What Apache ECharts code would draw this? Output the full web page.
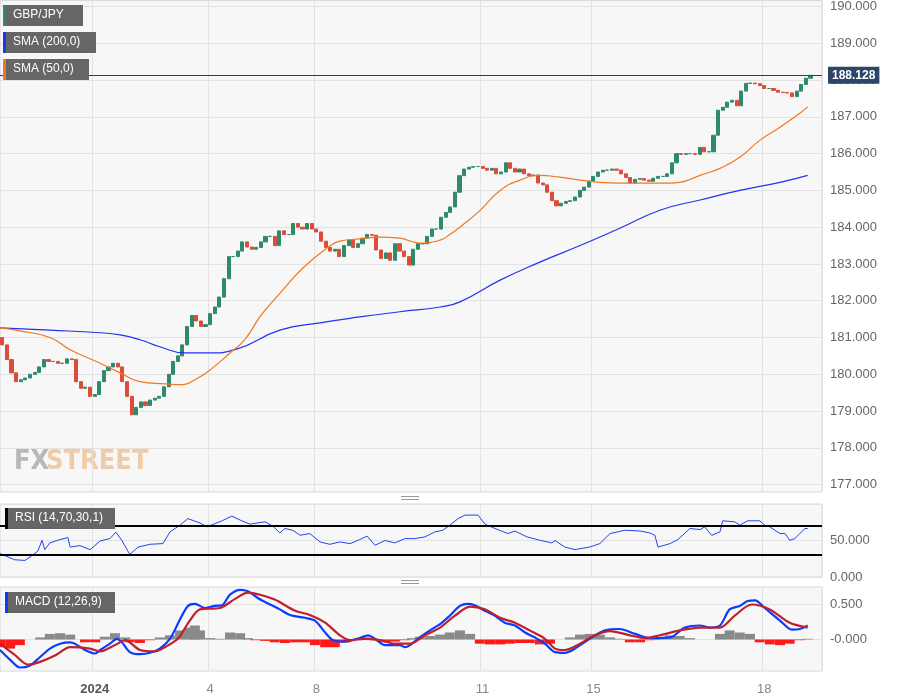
<!DOCTYPE html>
<html>
<head>
<meta charset="utf-8">
<script src="https://cdn.jsdelivr.net/npm/echarts@6/dist/echarts.min.js"></script>
<style>
  html, body { margin: 0; padding: 0; background: #fff; }
  #chart { width: 898px; height: 697px; }
</style>
</head>
<body>
<div id="chart"></div>
<script>
// 2-hour bars, GBP/JPY, late Dec 2023 - 18 Jan 2024
const slotCount = 178;
const dayLabels = [[20, '2024'], [45, '4'], [68, '8'], [104, '11'], [128, '15'], [165, '18']];
const firstOpen = 181.0;
const closes = [
  180.8, 180.4, 180.04, 179.8, 179.85, 179.9, 180.0, 180.05, 180.2, 180.4,
  180.35, 180.35, 180.3, 180.3, 180.42, 180.4, 179.8, 179.62, 179.65, 179.4,
  179.45, 179.8, 180.1, 180.2, 180.3, 180.2, 179.8, 179.4, 178.9, 179.1,
  179.25, 179.15, 179.3, 179.35, 179.4, 179.66, 180.0, 180.35, 180.5, 180.8,
  181.3, 181.6, 181.45, 181.3, 181.35, 181.65, 181.83, 182.1, 182.6, 183.2,
  183.2, 183.35, 183.6, 183.46, 183.4, 183.45, 183.6, 183.75, 183.75, 183.5,
  183.9, 183.8, 183.8, 184.1, 184.0, 183.95, 184.1, 183.95, 183.87, 183.62,
  183.45, 183.35, 183.4, 183.2, 183.5, 183.65, 183.45, 183.55, 183.7, 183.8,
  183.78, 183.38, 183.15, 183.3, 183.1, 183.55, 183.35, 183.2, 182.97, 183.4,
  183.55, 183.55, 183.75, 183.95, 183.95, 184.27, 184.4, 184.55, 184.95, 185.4,
  185.58, 185.63, 185.65, 185.65, 185.6, 185.55, 185.6, 185.45, 185.5, 185.75,
  185.6, 185.5, 185.58, 185.45, 185.4, 185.42, 185.2, 185.15, 184.95, 184.72,
  184.58, 184.65, 184.7, 184.72, 184.82, 185.0, 185.09, 185.25, 185.38, 185.5,
  185.55, 185.55, 185.58, 185.55, 185.45, 185.35, 185.2, 185.3, 185.32, 185.28,
  185.25, 185.33, 185.38, 185.38, 185.45, 185.75, 186.0, 185.98, 186.0, 186.0,
  185.98, 186.17, 186.05, 186.05, 186.5, 187.18, 187.26, 187.4, 187.45, 187.3,
  187.7, 187.91, 187.92, 187.9, 187.85, 187.77, 187.77, 187.72, 187.67, 187.66,
  187.65, 187.55, 187.7, 187.88, 188.05, 188.128
];
const lastPrice = 188.128;

// indicator readings: [slot position, value]
const sma50 = [[0,181.26],[4.3,181.18],[10.8,181.0],[15.2,180.67],[21.7,180.3],[26,180.04],[30.3,179.8],[35.7,179.74],[39.6,179.72],[42.2,179.85],[45.5,180.12],[49.8,180.58],[53,180.94],[56.5,181.6],[60.6,182.2],[65.6,182.89],[71.4,183.49],[73.6,183.62],[77.9,183.68],[82.3,183.73],[86.6,183.7],[90.9,183.57],[95.3,183.65],[97.4,183.8],[99.6,184.0],[103.9,184.45],[108.3,185.0],[112.6,185.28],[116.9,185.41],[121.2,185.36],[125.6,185.28],[129.9,185.22],[134.2,185.2],[138.6,185.2],[145.1,185.2],[147.2,185.22],[151.6,185.41],[155.9,185.6],[160.2,185.9],[164.5,186.36],[168.9,186.72],[173.2,187.1],[174.9,187.27]];
const sma200 = [[0,181.26],[10.8,181.2],[21.7,181.13],[26,181.07],[30.3,180.94],[34.6,180.75],[40.1,180.58],[45.5,180.58],[50.9,180.67],[60.6,181.2],[69.3,181.4],[77.9,181.56],[86.6,181.7],[95.3,181.83],[99.6,181.97],[108.3,182.56],[116.9,183.05],[125.6,183.5],[134.2,183.97],[142.9,184.46],[151.6,184.74],[160.2,185.0],[168.9,185.22],[174.9,185.41]];
const rsi = [[0,32],[3.2,23.6],[5.4,22.7],[6.5,27.3],[8.2,35.6],[9.1,50.3],[9.7,37.5],[10.8,46.7],[13,51.3],[14.7,54],[15.2,41],[17.3,43],[19.5,37.5],[21.7,49.4],[23.8,52.6],[25.1,61.4],[26.4,50],[28.1,31],[29.9,41],[32.5,44.8],[35.3,45.8],[36.8,61.8],[39,71],[40.7,80],[43.3,74],[44.8,68.7],[46.5,73],[48.1,77],[50.2,83.4],[52,78],[54.1,72.4],[57.4,75.6],[59.1,69.6],[60.6,60.4],[61.7,66.4],[63.4,64],[65,57.2],[67.1,59.5],[69.3,48],[71.4,44.8],[73.6,48],[75.8,45.7],[77.9,51.3],[79.5,56],[81.2,43.5],[83.4,50],[85.5,46.7],[87.7,52.6],[89.8,52.6],[92,54.9],[94.2,61.8],[95.9,64],[97.4,71],[99.2,80],[100.7,84.8],[103.5,84.8],[105,72.4],[107.2,66.4],[110,59.5],[111.5,63],[114.1,55],[116.9,50.3],[119.5,46.7],[120.2,50],[122.3,41],[124.5,37.5],[127.7,41.1],[129.9,45.8],[132.1,59.5],[135.3,64],[138.6,63],[140.7,60.4],[141.8,57.2],[142.5,41],[145.1,45.7],[146.8,51.3],[149.4,66.4],[151.6,65],[152.6,68.7],[154.1,57],[155.9,61.8],[156.5,77],[159.1,75.6],[160.2,71],[161.9,77],[164.5,77],[165.6,71],[166.7,68.7],[168.9,59.5],[170,59.5],[171,50.3],[172.1,52.6],[173.2,59.5],[174.3,66.4],[174.9,66.4]];
const macdLine = [[0,-0.15],[2.2,-0.29],[4.3,-0.4],[6.5,-0.37],[8.7,-0.25],[10.8,-0.13],[13,-0.06],[15.2,-0.04],[16.2,-0.06],[18.4,-0.15],[20.6,-0.2],[21.7,-0.15],[23.8,-0.06],[25.3,0.01],[26.4,-0.04],[28.1,-0.18],[30.3,-0.21],[32.5,-0.19],[34.6,-0.13],[36.8,0.01],[39,0.29],[40.7,0.48],[42.2,0.51],[44.4,0.45],[46.5,0.48],[48.1,0.49],[49.8,0.64],[52,0.71],[53.7,0.69],[55.9,0.59],[58.5,0.5],[60.6,0.43],[62.8,0.35],[66,0.31],[68.2,0.27],[70.4,0.1],[72.1,-0.01],[74.7,-0.03],[77.9,0.02],[79.7,0.06],[81.2,0.01],[83.4,-0.08],[86.6,-0.08],[87.7,-0.11],[88.8,-0.08],[90.9,0.03],[93.1,0.13],[95.3,0.22],[97.4,0.34],[99.6,0.48],[101.3,0.51],[102.8,0.49],[105,0.41],[107.2,0.34],[109.3,0.24],[111.5,0.2],[113.7,0.1],[115.8,0.03],[118,-0.06],[120.2,-0.18],[122.3,-0.19],[124.5,-0.13],[127.7,0.01],[131,0.13],[134.2,0.15],[137.5,0.08],[140.7,0.02],[145.1,0.03],[148.3,0.17],[151.6,0.2],[153.7,0.17],[155.9,0.2],[158,0.43],[160.2,0.48],[161.9,0.55],[163.5,0.56],[165.6,0.45],[168.9,0.27],[171.5,0.14],[173.2,0.15],[174.9,0.2]];
const signalLine = [[0,-0.06],[3.2,-0.22],[6.1,-0.36],[8.7,-0.32],[11.9,-0.23],[15.2,-0.11],[19.5,-0.13],[21.7,-0.17],[24.9,-0.08],[27.1,-0.01],[30.3,-0.15],[33.6,-0.17],[35.7,-0.11],[38.5,0.01],[41.1,0.27],[43.3,0.43],[47.6,0.45],[50.9,0.58],[53.7,0.67],[56.3,0.64],[59.5,0.57],[63.9,0.41],[67.1,0.35],[70.4,0.24],[73.6,0.06],[75.8,-0.01],[79,0.01],[82.3,-0.01],[85.5,-0.06],[88.8,-0.06],[92,0.06],[95.3,0.17],[98.5,0.34],[101.8,0.47],[105,0.43],[108.3,0.31],[111.5,0.24],[114.7,0.13],[118,0.01],[120.2,-0.13],[122.3,-0.15],[125.6,-0.06],[128.8,0.06],[132.1,0.12],[136.4,0.06],[139.6,0.02],[142.9,0.06],[147.2,0.13],[151.6,0.17],[155.9,0.17],[159.1,0.34],[162.8,0.5],[166.7,0.43],[171,0.24],[174.9,0.17]];
const macdHist = [[0,-0.11],[2.2,-0.13],[4.3,-0.08],[6.5,0],[8.7,0.03],[10.8,0.08],[13,0.09],[15.2,0.07],[16.9,0],[18.4,-0.04],[20.6,-0.04],[22.7,0.04],[24.9,0.09],[27.1,0.03],[28.1,-0.04],[30.3,-0.05],[32.5,-0.01],[34.6,0.03],[36.8,0.06],[39,0.13],[41.1,0.17],[42.2,0.2],[43.3,0.13],[45.5,0.02],[47.6,0.01],[49.8,0.1],[52,0.09],[53.7,0.02],[55.2,-0.01],[57.4,-0.02],[59.5,-0.04],[61.7,-0.05],[63.9,-0.04],[66,-0.04],[68.2,-0.08],[70.4,-0.11],[72.5,-0.11],[74.7,-0.04],[76.9,0],[79,0.03],[81.2,-0.01],[83.4,-0.04],[85.5,-0.03],[87.7,-0.01],[89.2,0.02],[90.9,0.04],[93.1,0.05],[95.3,0.07],[97.4,0.1],[99.6,0.13],[101.8,0.08],[103.9,-0.06],[106.1,-0.07],[108.3,-0.07],[110.4,-0.06],[112.6,-0.05],[114.7,-0.05],[116.9,-0.07],[119.1,-0.06],[121.2,0],[123.4,0.03],[125.6,0.07],[127.7,0.08],[129.9,0.07],[132.1,0.03],[134.2,0.01],[136.4,-0.04],[138.6,-0.04],[140.7,-0.01],[142.9,0.03],[145.1,0.06],[147.2,0.05],[149.4,0.02],[151.6,0],[155.9,0.08],[158,0.13],[160.2,0.1],[162.4,0.08],[164.5,-0.04],[166.7,-0.07],[168.9,-0.08],[171,-0.06],[173.2,-0.01],[174.9,0.01]];

const categories = [];
for (let i = 0; i < slotCount; i++) categories.push('');
dayLabels.forEach(([i, t]) => { categories[i] = t; });
const labelSet = new Set(dayLabels.map(d => d[0]));

const candles = closes.map((c, i) => {
  const o = i === 0 ? firstOpen : closes[i - 1];
  return [o, c, Math.min(o, c), Math.max(o, c)];
});

const chart = echarts.init(document.getElementById('chart'));
const panel = { left: 0, right: 76, show: true, backgroundColor: '#f7f7f7', borderColor: '#d6d6e2', borderWidth: 1 };
const gridColor = '#e2e2e2';
const axisText = { color: '#666', fontSize: 13, fontFamily: 'Arial, Liberation Sans, sans-serif' };

function catAxis(gridIndex, showLabels) {
  return {
    type: 'category', gridIndex, data: categories, boundaryGap: true,
    axisLine: { show: false }, axisTick: { show: false },
    axisLabel: showLabels ? {
      interval: (i) => labelSet.has(i), margin: 12,
      formatter: (v) => v === '2024' ? '{b|2024}' : v,
      color: '#888', fontSize: 13,
      rich: { b: { color: '#555', fontWeight: 'bold', fontSize: 13 } }
    } : { show: false },
    splitLine: { show: true, interval: (i) => labelSet.has(i), lineStyle: { color: gridColor } }
  };
}
function valAxis(gridIndex) {
  return { type: 'value', gridIndex, min: 0, max: slotCount, show: false };
}
function clearEvery(n, k) {
  const arr = [];
  for (let i = 0; i < n; i++) arr.push(i === k ? gridColor : 'rgba(0,0,0,0)');
  return arr;
}

const labelBox = (x, y, w, strip, text) => ({
  type: 'group', left: x, top: y, z: 100, children: [
    { type: 'rect', z: 100, shape: { x: 0, y: 0, width: w, height: 21 }, style: { fill: '#666' } },
    { type: 'rect', z: 101, shape: { x: 0, y: 0, width: 3, height: 21 }, style: { fill: strip } },
    { type: 'text', z: 102, left: 10, top: 4, style: { text, fill: '#fff', font: '12px Arial, sans-serif' } }
  ]
});

chart.setOption({
  animation: false,
  backgroundColor: '#fff',
  grid: [
    Object.assign({ top: 0, height: 492 }, panel),
    Object.assign({ top: 504, height: 73 }, panel),
    Object.assign({ top: 587, height: 84 }, panel)
  ],
  xAxis: [catAxis(0, false), valAxis(0), catAxis(1, false), valAxis(1), catAxis(2, true), valAxis(2)],
  yAxis: [
    {
      type: 'value', gridIndex: 0, position: 'right', min: 176.8, max: 190.16, interval: 0.2,
      axisLine: { show: false }, axisTick: { show: false },
      axisLabel: Object.assign({ margin: 8, showMaxLabel: false,
        formatter: (v) => Math.abs(v - Math.round(v)) < 0.01 ? v.toFixed(3) : '' }, axisText),
      splitLine: { lineStyle: { color: clearEvery(5, 1) } }
    },
    {
      type: 'value', gridIndex: 1, position: 'right', min: 0, max: 100, interval: 50,
      axisLine: { show: false }, axisTick: { show: false },
      axisLabel: Object.assign({ margin: 8, showMaxLabel: false, formatter: (v) => v.toFixed(3) }, axisText),
      splitLine: { lineStyle: { color: gridColor } }
    },
    {
      type: 'value', gridIndex: 2, position: 'right', min: -0.45, max: 0.75, interval: 0.05,
      axisLine: { show: false }, axisTick: { show: false },
      axisLabel: Object.assign({ margin: 8, showMaxLabel: false,
        formatter: (v) => Math.abs(v) < 0.001 ? '-0.000' : (Math.abs(v - 0.5) < 0.001 ? '0.500' : '') }, axisText),
      splitLine: { lineStyle: { color: clearEvery(10, 9) } }
    }
  ],
  series: [
    {
      type: 'candlestick', xAxisIndex: 0, yAxisIndex: 0, data: candles, barWidth: 3.6,
      itemStyle: { color: '#2f8a6c', color0: '#dd4b39', borderColor: '#2f8a6c', borderColor0: '#dd4b39', borderWidth: 1 },
      markLine: {
        silent: true, symbol: 'none',
        lineStyle: { color: '#2b3d5c', width: 1, type: 'solid' },
        label: {
          position: 'end', formatter: lastPrice.toFixed(3), color: '#fff', fontWeight: 'bold', fontSize: 12,
          backgroundColor: '#2d4569', padding: [3, 4, 2, 4], distance: 6
        },
        data: [{ yAxis: lastPrice }]
      }
    },
    { type: 'line', xAxisIndex: 1, yAxisIndex: 0, data: sma200, showSymbol: false, smooth: true,
      lineStyle: { color: '#2233ee', width: 1.2 } },
    { type: 'line', xAxisIndex: 1, yAxisIndex: 0, data: sma50, showSymbol: false, smooth: true,
      lineStyle: { color: '#f07820', width: 1.2 } },
    {
      type: 'line', xAxisIndex: 3, yAxisIndex: 1, data: rsi, showSymbol: false,
      lineStyle: { color: '#2244ee', width: 1 },
      markLine: { silent: true, symbol: 'none', label: { show: false },
        lineStyle: { color: '#000', width: 2, type: 'solid' }, data: [{ yAxis: 70 }, { yAxis: 30 }] }
    },
    {
      type: 'bar', xAxisIndex: 5, yAxisIndex: 2, data: macdHist, barWidth: 10,
      itemStyle: { color: (p) => p.value[1] >= 0 ? '#8a8a8a' : '#ff1a1a' }
    },
    { type: 'line', xAxisIndex: 5, yAxisIndex: 2, data: macdLine, showSymbol: false, smooth: 0.3,
      lineStyle: { color: '#0a3cff', width: 2.2 } },
    { type: 'line', xAxisIndex: 5, yAxisIndex: 2, data: signalLine, showSymbol: false, smooth: 0.3,
      lineStyle: { color: '#c0202a', width: 2.2 } }
  ],
  graphic: [
    labelBox(3, 5, 80, '#2f8a6c', 'GBP/JPY'),
    labelBox(3, 32, 93, '#2233ee', 'SMA (200,0)'),
    labelBox(3, 59, 86, '#f07820', 'SMA (50,0)'),
    labelBox(5, 508, 110, '#000', 'RSI (14,70,30,1)'),
    labelBox(5, 592, 110, '#0a3cff', 'MACD (12,26,9)'),
    { type: 'text', left: 14, top: 448, z: 0, style: { text: 'FX', fill: 'rgba(120,120,130,0.5)', font: 'bold 27px "DejaVu Sans Condensed", sans-serif' } },
    { type: 'text', left: 46, top: 448, z: 0, style: { text: 'STREET', fill: 'rgba(235,170,100,0.55)', font: 'bold 27px "DejaVu Sans Condensed", sans-serif' } },
    { type: 'rect', left: 401, top: 496, shape: { width: 18, height: 1 }, style: { fill: '#999' } },
    { type: 'rect', left: 401, top: 499, shape: { width: 18, height: 1 }, style: { fill: '#999' } },
    { type: 'rect', left: 401, top: 580, shape: { width: 18, height: 1 }, style: { fill: '#999' } },
    { type: 'rect', left: 401, top: 583, shape: { width: 18, height: 1 }, style: { fill: '#999' } }
  ]
});
</script>
</body>
</html>
